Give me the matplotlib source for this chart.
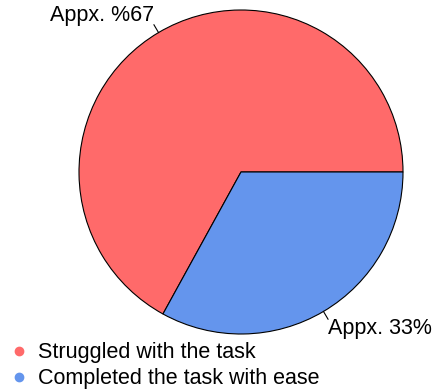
import numpy as np
import matplotlib.pyplot as plt
from matplotlib.lines import Line2D

plt.rcParams['font.family'] = ['Liberation Sans', 'DejaVu Sans']

# data
groups = ["Struggled with the task", "Completed the task with ease"]
shares = [67, 33]
slice_labels = ["Appx. %67", "Appx. 33%"]
colors = ["#FF6A6A", "#6495ED"]

fig = plt.figure(figsize=(4.33, 3.9), dpi=100)
ax = fig.add_axes([0, 0, 1, 1])

cx, cy, r = 241, 218, 162
wedges, _ = ax.pie(shares, colors=colors, startangle=0, counterclock=True,
                   center=(cx, cy), radius=r,
                   wedgeprops=dict(edgecolor='black', linewidth=0.8),
                   frame=True)
ax.set_xlim(0, 433)
ax.set_ylim(0, 390)
ax.set_aspect('equal')
ax.axis('off')

# labels with short leader ticks
for w, lab in zip(wedges, slice_labels):
    mid = np.deg2rad((w.theta1 + w.theta2) / 2)
    dx, dy = np.cos(mid), np.sin(mid)
    ax.plot([cx + r * dx, cx + (r + 9) * dx], [cy + r * dy, cy + (r + 9) * dy],
            color='black', lw=0.8)
    tx, ty = cx + (r + 8) * dx, cy + (r + 8) * dy
    ax.text(tx, ty, lab, fontsize=15.5,
            ha='right' if dx < 0 else 'left',
            va='bottom' if dy > 0 else 'top')

handles = [Line2D([], [], marker='o', linestyle='', markersize=6,
                  markerfacecolor=c, markeredgecolor=c) for c in colors]
fig.legend(handles, groups, loc='center left', bbox_to_anchor=(0.024, 0.062),
           frameon=False, fontsize=15.5, handletextpad=0.49, labelspacing=0.22,
           borderaxespad=0, borderpad=0, handlelength=0.8)

fig.savefig("out.png", dpi=100)
